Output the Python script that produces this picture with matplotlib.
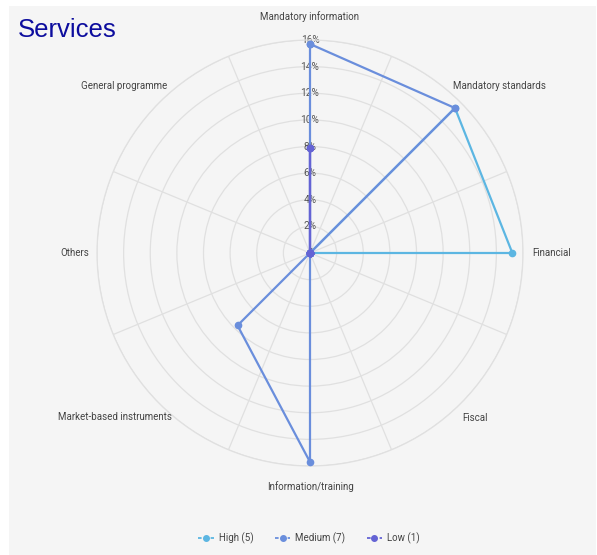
import numpy as np
import matplotlib
matplotlib.use("Agg")
import matplotlib.pyplot as plt
from matplotlib.patches import Rectangle
from matplotlib.lines import Line2D

categories = ["Mandatory information", "Mandatory standards", "Financial", "Fiscal",
              "Information/training", "Market-based instruments", "Others", "General programme"]
high = [0, 15.4, 15.2, 0, 0, 0, 0, 0]
medium = [15.7, 15.4, 0, 0, 15.7, 7.7, 0, 0]
low = [7.9, 0, 0, 0, 0, 0, 0, 0]
series_names = ["High (5)", "Medium (7)", "Low (1)"]
r_ticks = [0, 2, 4, 6, 8, 10, 12, 14, 16]

colors = ["#5cb6e2", "#6a8edc", "#6463d4"]
grid_col = "#e0e0e0"
label_col = "#444444"
plt.rcParams["font.family"] = ["Roboto", "DejaVu Sans"]

W, H = 597, 555
fig = plt.figure(figsize=(W / 100, H / 100), dpi=100)
fig.patch.set_facecolor("white")
fig.add_artist(Rectangle((9 / W, 0), (596 - 9) / W, 1 - 6 / H, transform=fig.transFigure,
                         facecolor="#f5f5f5", edgecolor="none", zorder=0))

cx, cy, R = 310, 253, 213
ax = fig.add_axes([(cx - R) / W, (H - cy - R) / H, 2 * R / W, 2 * R / H], projection="polar")
ax.set_facecolor("none")
ax.set_theta_zero_location("N")
ax.set_theta_direction(-1)
ax.set_ylim(0, 16)

n = len(categories)
angles = np.arange(n) * 2 * np.pi / n
ax.set_xticks(angles)
ax.set_xticklabels([])
ax.set_xticks(angles + np.pi / n, minor=True)
ax.xaxis.grid(False, which="major")
ax.xaxis.grid(True, which="minor", color=grid_col, lw=0.9)
ax.tick_params(axis="x", which="both", length=0)
ax.set_yticks(r_ticks[1:])
ax.set_yticklabels([])
ax.yaxis.grid(True, color=grid_col, lw=0.9)
ax.spines["polar"].set_color(grid_col)
ax.spines["polar"].set_linewidth(0.9)

for r in r_ticks:
    ax.text(0, r, "0" if r == 0 else f"{r}%", ha="center", va="center",
            fontsize=7.3, color="#555555", zorder=2)

closed = np.append(angles, angles[0])
for vals, col, name in zip([high, medium, low], colors, series_names):
    v = np.append(vals, vals[0])
    ax.plot(closed, v, color=col, lw=1.6, marker="o", ms=4.5, mec=col, zorder=3, clip_on=False)

# label offsets in pixels from the outer ring point
offsets = [(0, 23, "center"), (-8, 16, "left"), (9, 0, "left"), (2, -14, "left"),
           (0, -21, "center"), (12, -13, "right"), (-8, 0, "right"), (8, 16, "right")]
for a, lab, (dx, dy, ha) in zip(angles, categories, offsets):
    ax.annotate(lab, xy=(a, 16), xytext=(dx, dy), textcoords="offset pixels",
                ha=ha, va="center", fontsize=7, color=label_col, annotation_clip=False)

handles = [Line2D([0], [0], color=c, lw=1.3, ls=(0, (2, 1.5)), marker="o", ms=4)
           for c in colors]
fig.legend(handles, series_names, loc="center", bbox_to_anchor=(309 / W, 1 - 538 / H),
           ncol=3, frameon=False, fontsize=7, handlelength=1.6, handletextpad=0.5,
           columnspacing=2.2, labelcolor=label_col)

fig.text(18 / W, 1 - 37 / H, "Services", fontsize=18.5, color="#0d0d9e",
         family="Liberation Sans", ha="left", va="baseline")

fig.savefig("out.png", dpi=100, facecolor=fig.get_facecolor())
